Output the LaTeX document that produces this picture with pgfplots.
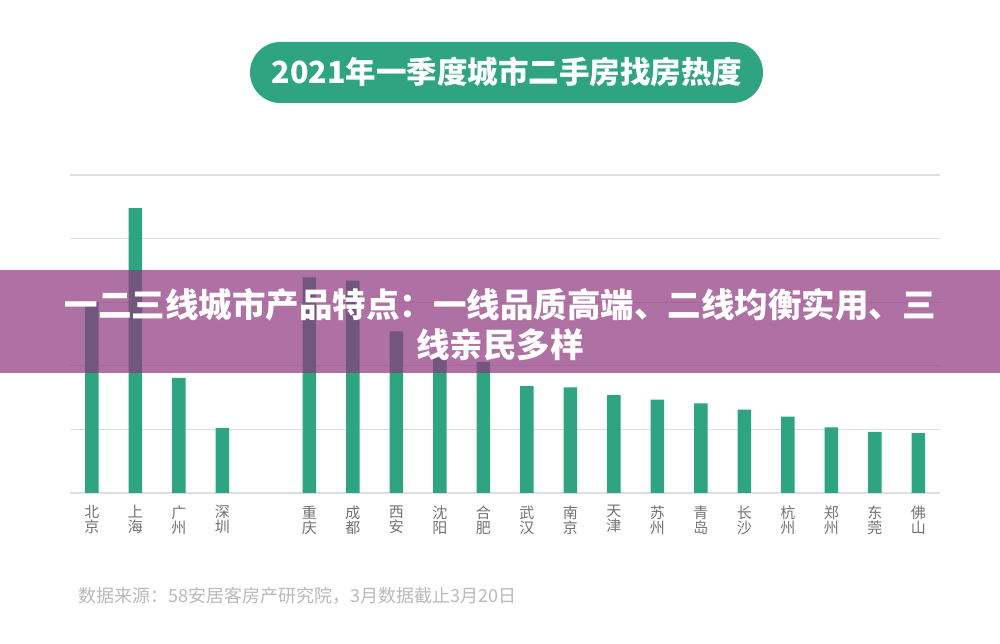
\documentclass[border=0pt]{standalone}
\usepackage{pgfplots}
\pgfplotsset{compat=1.18}
\usepackage{fontspec}
\newfontfamily\cjk{Noto Sans CJK SC}
\definecolor{bargreen}{RGB}{46,165,128}
\definecolor{bannerpurple}{RGB}{142,54,124}
\begin{document}
\begin{tikzpicture}[x=1pt,y=1pt]
\fill[white] (0,0) rectangle (1000,644);
\fill[bargreen, rounded corners=30.5pt] (250,541) rectangle (763,602);
\node[text=white, font={\cjk\bfseries\fontsize{30.5}{36}\selectfont}] at (507,572) {2021年一季度城市二手房找房热度};
\begin{axis}[at={(70pt,151pt)}, anchor=south west, width=870pt, height=318pt, scale only axis,
  xmin=-0.5, xmax=19.5, ymin=0, ymax=5,
  ytick={0,1,2,3,4,5}, yticklabels={}, ymajorgrids,
  grid style={line width=1.2pt, color=black!13},
  axis line style={draw=none}, major tick length=0pt,
  xtick=data,
  xticklabels={{北\\京},{上\\海},{广\\州},{深\\圳},{重\\庆},{成\\都},{西\\安},{沈\\阳},{合\\肥},{武\\汉},{南\\京},{天\\津},{苏\\州},{青\\岛},{长\\沙},{杭\\州},{郑\\州},{东\\莞},{佛\\山}},
  xticklabel style={align=center, text=black!55, font={\cjk\fontsize{15}{15}\selectfont}, yshift=-9pt},
  ybar, bar width=13.5pt, clip=false]
\addplot[fill=bargreen, draw=none] coordinates {
(0,3.00) (1,4.48) (2,1.81) (3,1.02) (5,3.39) (6,3.34) (7,2.54) (8,2.12) (9,2.06) (10,1.68) (11,1.66) (12,1.54) (13,1.47) (14,1.41) (15,1.31) (16,1.20) (17,1.03) (18,0.96) (19,0.94)};
\end{axis}
\fill[bannerpurple, fill opacity=0.7] (0,271) rectangle (1000,374);
\node[text=white, align=center, font={\cjk\bfseries\fontsize{33.5}{40}\selectfont}] at (500,319) {一二三线城市产品特点：一线品质高端、二线均衡实用、三\\线亲民多样};
\node[anchor=west, text=black!27, font={\cjk\fontsize{18}{20}\selectfont}] at (75,48) {数据来源：58安居客房产研究院，3月数据截止3月20日};
\end{tikzpicture}
\end{document}
